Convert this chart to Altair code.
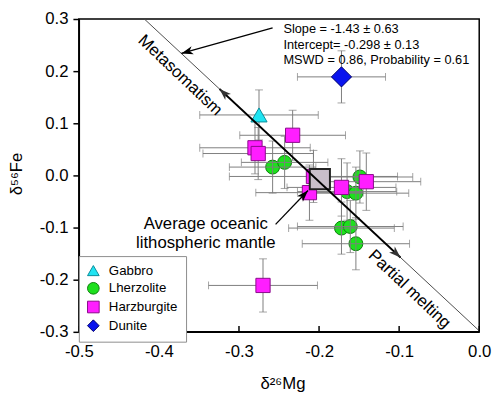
import altair as alt
import pandas as pd

FONT = "Liberation Sans"

# ---- categories / styles ----
TYPES = ["Gabbro", "Lherzolite", "Harzburgite", "Dunite"]
FILLS = ["#1fe4f2", "#1de01d", "#ff1eff", "#0a14ee"]
STROKES = ["#0a8c99", "#0b7d0b", "#8a0a8a", "#00006a"]
SHAPES = ["triangle-up", "circle", "square", "diamond"]
DRAW_ORDER = ["Lherzolite", "Harzburgite", "Gabbro", "Dunite"]
SIZE_OF = {"Gabbro": 270, "Lherzolite": 200, "Harzburgite": 210, "Dunite": 420}

# ---- samples ----
sample_type = (["Lherzolite"] * 8) + (["Harzburgite"] * 8) + ["Gabbro", "Dunite"]
mg = [-0.258, -0.243, -0.165, -0.149, -0.154, -0.172, -0.161, -0.154,
      -0.280, -0.276, -0.233, -0.207, -0.212, -0.172, -0.141, -0.270,
      -0.275, -0.172]
fe = [0.016, 0.025, -0.031, -0.003, -0.034, -0.101, -0.098, -0.131,
      0.053, 0.042, 0.077, -0.002, -0.033, -0.023, -0.012, -0.211,
      0.116, 0.189]
mg_err = [0.054, 0.054, 0.062, 0.066, 0.066, 0.066, 0.066, 0.067,
          0.069, 0.069, 0.066, 0.105, 0.067, 0.068, 0.068, 0.068,
          0.074, 0.055]
fe_err = [0.050, 0.050, 0.055, 0.050, 0.050, 0.050, 0.050, 0.050,
          0.050, 0.050, 0.048, 0.050, 0.053, 0.055, 0.055, 0.051,
          0.048, 0.050]

# average oceanic lithospheric mantle
avg_mg = [-0.199]
avg_fe = [-0.007]

# regression
slope = -1.43
intercept = -0.298
line_mg = [-0.4182, 0.0]
thick_mg = [-0.3243, -0.0983]

x_ticks = [-0.5, -0.4, -0.3, -0.2, -0.1, 0.0]
y_ticks = [-0.3, -0.2, -0.1, 0.0, 0.1, 0.2, 0.3]

stats_lines = ["Slope = -1.43 \u00b1 0.63", "Intercept= -0.298 \u00b1 0.13",
               "MSWD = 0.86, Probability = 0.61"]
stats_mg = [-0.2445, -0.2445, -0.2445]
stats_fe = [0.2816, 0.2509, 0.2203]

labels = ["Metasomatism", "Partial melting", "Average oceanic", "lithospheric mantle"]
label_mg = [-0.3735, -0.0872, -0.3415, -0.3415]
label_fe = [0.192, -0.2184, -0.0939, -0.1292]
label_angle = [43.4, 43.4, 0, 0]

shaft_mg = [-0.258, -0.2543]
shaft_fe = [0.283, -0.0939]
shaft_mg2 = [-0.372, -0.2138]
shaft_fe2 = [0.234, -0.0288]

reg_head_mg = [-0.3243, -0.0983]
reg_head_angle = [313.4, 133.4]
ann_head_mg = [-0.372, -0.2138]
ann_head_fe = [0.234, -0.0288]
ann_head_angle = [254.2, 43.3]

ARROW = "M0,0L-0.7,2L0,1.45L0.7,2Z"
EB = "#7d7d7d"

W, H = 407, 318
xs = alt.Scale(domain=[-0.5, 0.0], nice=False, zero=False)
ys = alt.Scale(domain=[-0.3, 0.3], nice=False, zero=False)

label_expr = "datum.value < 0 ? '-' + format(-datum.value, '.1f') : format(datum.value, '.1f')"
X_TITLE = "\u03b4\u00b2\u2076Mg"
Y_TITLE = "\u03b4\u2075\u2076Fe"
x_axis = alt.Axis(values=x_ticks, labelExpr=label_expr, tickSize=0,
                  labelPadding=12, titleX=207, titleY=53,
                  titleBaseline="middle", labelFlush=False,
                  labelOverlap=False, grid=False)
y_axis = alt.Axis(values=y_ticks, labelExpr=label_expr, tickSize=6,
                  labelPadding=5, titleX=-63, titleY=157,
                  titleBaseline="middle", titleAlign="center",
                  labelFlush=False, labelOverlap=False, grid=False)


def X(f):
    return alt.X(f, type="quantitative", scale=xs, title=X_TITLE, axis=x_axis)


def Y(f):
    return alt.Y(f, type="quantitative", scale=ys, title=Y_TITLE, axis=y_axis)


pts = pd.DataFrame({"type": sample_type, "mg": mg, "fe": fe,
                    "dmg": mg_err, "dfe": fe_err})
base = alt.Chart(pts).transform_calculate(
    x_lo="datum.mg - datum.dmg", x_hi="datum.mg + datum.dmg",
    y_lo="datum.fe - datum.dfe", y_hi="datum.fe + datum.dfe")

leg = alt.Legend(orient="none", legendX=0, legendY=241, title=None, symbolSize=140)
point_layers = []
for t in DRAW_ORDER:
    point_layers.append(
        alt.Chart(pts).transform_filter(alt.datum.type == t).mark_point(
            filled=True, opacity=1, strokeWidth=1, size=SIZE_OF[t]).encode(
            x=X("mg"), y=Y("fe"),
            color=alt.Color("type:N", scale=alt.Scale(domain=TYPES, range=FILLS), legend=leg),
            stroke=alt.Stroke("type:N", scale=alt.Scale(domain=TYPES, range=STROKES), legend=leg),
            shape=alt.Shape("type:N", scale=alt.Scale(domain=TYPES, range=SHAPES), legend=leg),
        )
    )

hbar = base.mark_rule(color=EB, strokeWidth=1).encode(x=X("x_lo"), x2="x_hi", y=Y("fe"))
vbar = base.mark_rule(color=EB, strokeWidth=1).encode(x=X("mg"), y=Y("y_lo"), y2="y_hi")
cap1 = base.mark_tick(color=EB, orient="vertical", size=8, thickness=1).encode(x=X("x_lo"), y=Y("fe"))
cap2 = base.mark_tick(color=EB, orient="vertical", size=8, thickness=1).encode(x=X("x_hi"), y=Y("fe"))
cap3 = base.mark_tick(color=EB, orient="horizontal", size=8, thickness=1).encode(x=X("mg"), y=Y("y_lo"))
cap4 = base.mark_tick(color=EB, orient="horizontal", size=8, thickness=1).encode(x=X("mg"), y=Y("y_hi"))

avg = alt.Chart(pd.DataFrame({"mg": avg_mg, "fe": avg_fe})).mark_point(
    shape="square", filled=True, fill="#c9bfca", stroke="#222222", strokeWidth=2,
    size=420, opacity=1).encode(x=X("mg"), y=Y("fe"))

reg_expr = f"{slope} * datum.mg + ({intercept})"
thin = alt.Chart(pd.DataFrame({"mg": line_mg})).transform_calculate(fe=reg_expr).mark_line(
    color="#4a4a4a", strokeWidth=1, clip=True).encode(x=X("mg"), y=Y("fe"))
thick = alt.Chart(pd.DataFrame({"mg": thick_mg})).transform_calculate(fe=reg_expr).mark_line(
    color="black", strokeWidth=1.8).encode(x=X("mg"), y=Y("fe"))
reg_heads = alt.Chart(pd.DataFrame({"mg": reg_head_mg, "angle": reg_head_angle})).transform_calculate(
    fe=reg_expr).mark_point(shape=ARROW, filled=True, size=144, opacity=1, color="#333333").encode(
    x=X("mg"), y=Y("fe"), angle=alt.Angle("angle:Q", scale=None))

shafts = alt.Chart(pd.DataFrame({"mg": shaft_mg, "fe": shaft_fe, "mg2": shaft_mg2, "fe2": shaft_fe2})).mark_rule(
    color="black", strokeWidth=1.3).encode(x=X("mg"), y=Y("fe"), x2="mg2", y2="fe2")
ann_heads = alt.Chart(pd.DataFrame({"mg": ann_head_mg, "fe": ann_head_fe, "angle": ann_head_angle})).mark_point(
    shape=ARROW, filled=True, size=144, opacity=1, color="black").encode(
    x=X("mg"), y=Y("fe"), angle=alt.Angle("angle:Q", scale=None))

stats = alt.Chart(pd.DataFrame({"t": stats_lines, "mg": stats_mg, "fe": stats_fe})).mark_text(
    font=FONT, fontSize=13, align="left", baseline="middle", color="black").encode(
    x=X("mg"), y=Y("fe"), text="t:N")
lab = alt.Chart(pd.DataFrame({"t": labels, "mg": label_mg, "fe": label_fe, "angle": label_angle})).mark_text(
    font=FONT, fontSize=17, align="center", baseline="middle", color="black").encode(
    x=X("mg"), y=Y("fe"), text="t:N", angle=alt.Angle("angle:Q", scale=None))

xtick_in = alt.Chart(pd.DataFrame({"v": x_ticks})).mark_rule(color="black", strokeWidth=1.5).encode(
    x=X("v"), y=alt.value(H), y2=alt.value(H - 6))

chart = alt.layer(
    *point_layers[:1], hbar, vbar, cap1, cap2, cap3, cap4, *point_layers[1:], avg,
    thin, thick, reg_heads, shafts, ann_heads, stats, lab, xtick_in
).properties(
    width=W, height=H,
    autosize=alt.AutoSizeParams(type="none"),
    padding={"left": 72, "top": 8, "right": 13, "bottom": 60},
).configure_view(
    stroke="black", strokeWidth=1.5
).configure_axis(
    labelFont=FONT, titleFont=FONT, labelFontSize=17, titleFontSize=17,
    titleFontWeight="normal", labelColor="black", titleColor="black",
    domainColor="black", domainWidth=1.5, tickColor="black", tickWidth=1.5,
).configure_legend(
    orient="none", legendX=0, legendY=241,
    labelFont=FONT, labelFontSize=13.5, labelColor="black", symbolSize=140,
    symbolStrokeWidth=1, strokeColor="#8c8c8c", fillColor="white", padding=8,
    rowPadding=2, labelOffset=9, cornerRadius=0,
)

chart.save("out.html", embed_options={"renderer": "svg", "actions": False})
